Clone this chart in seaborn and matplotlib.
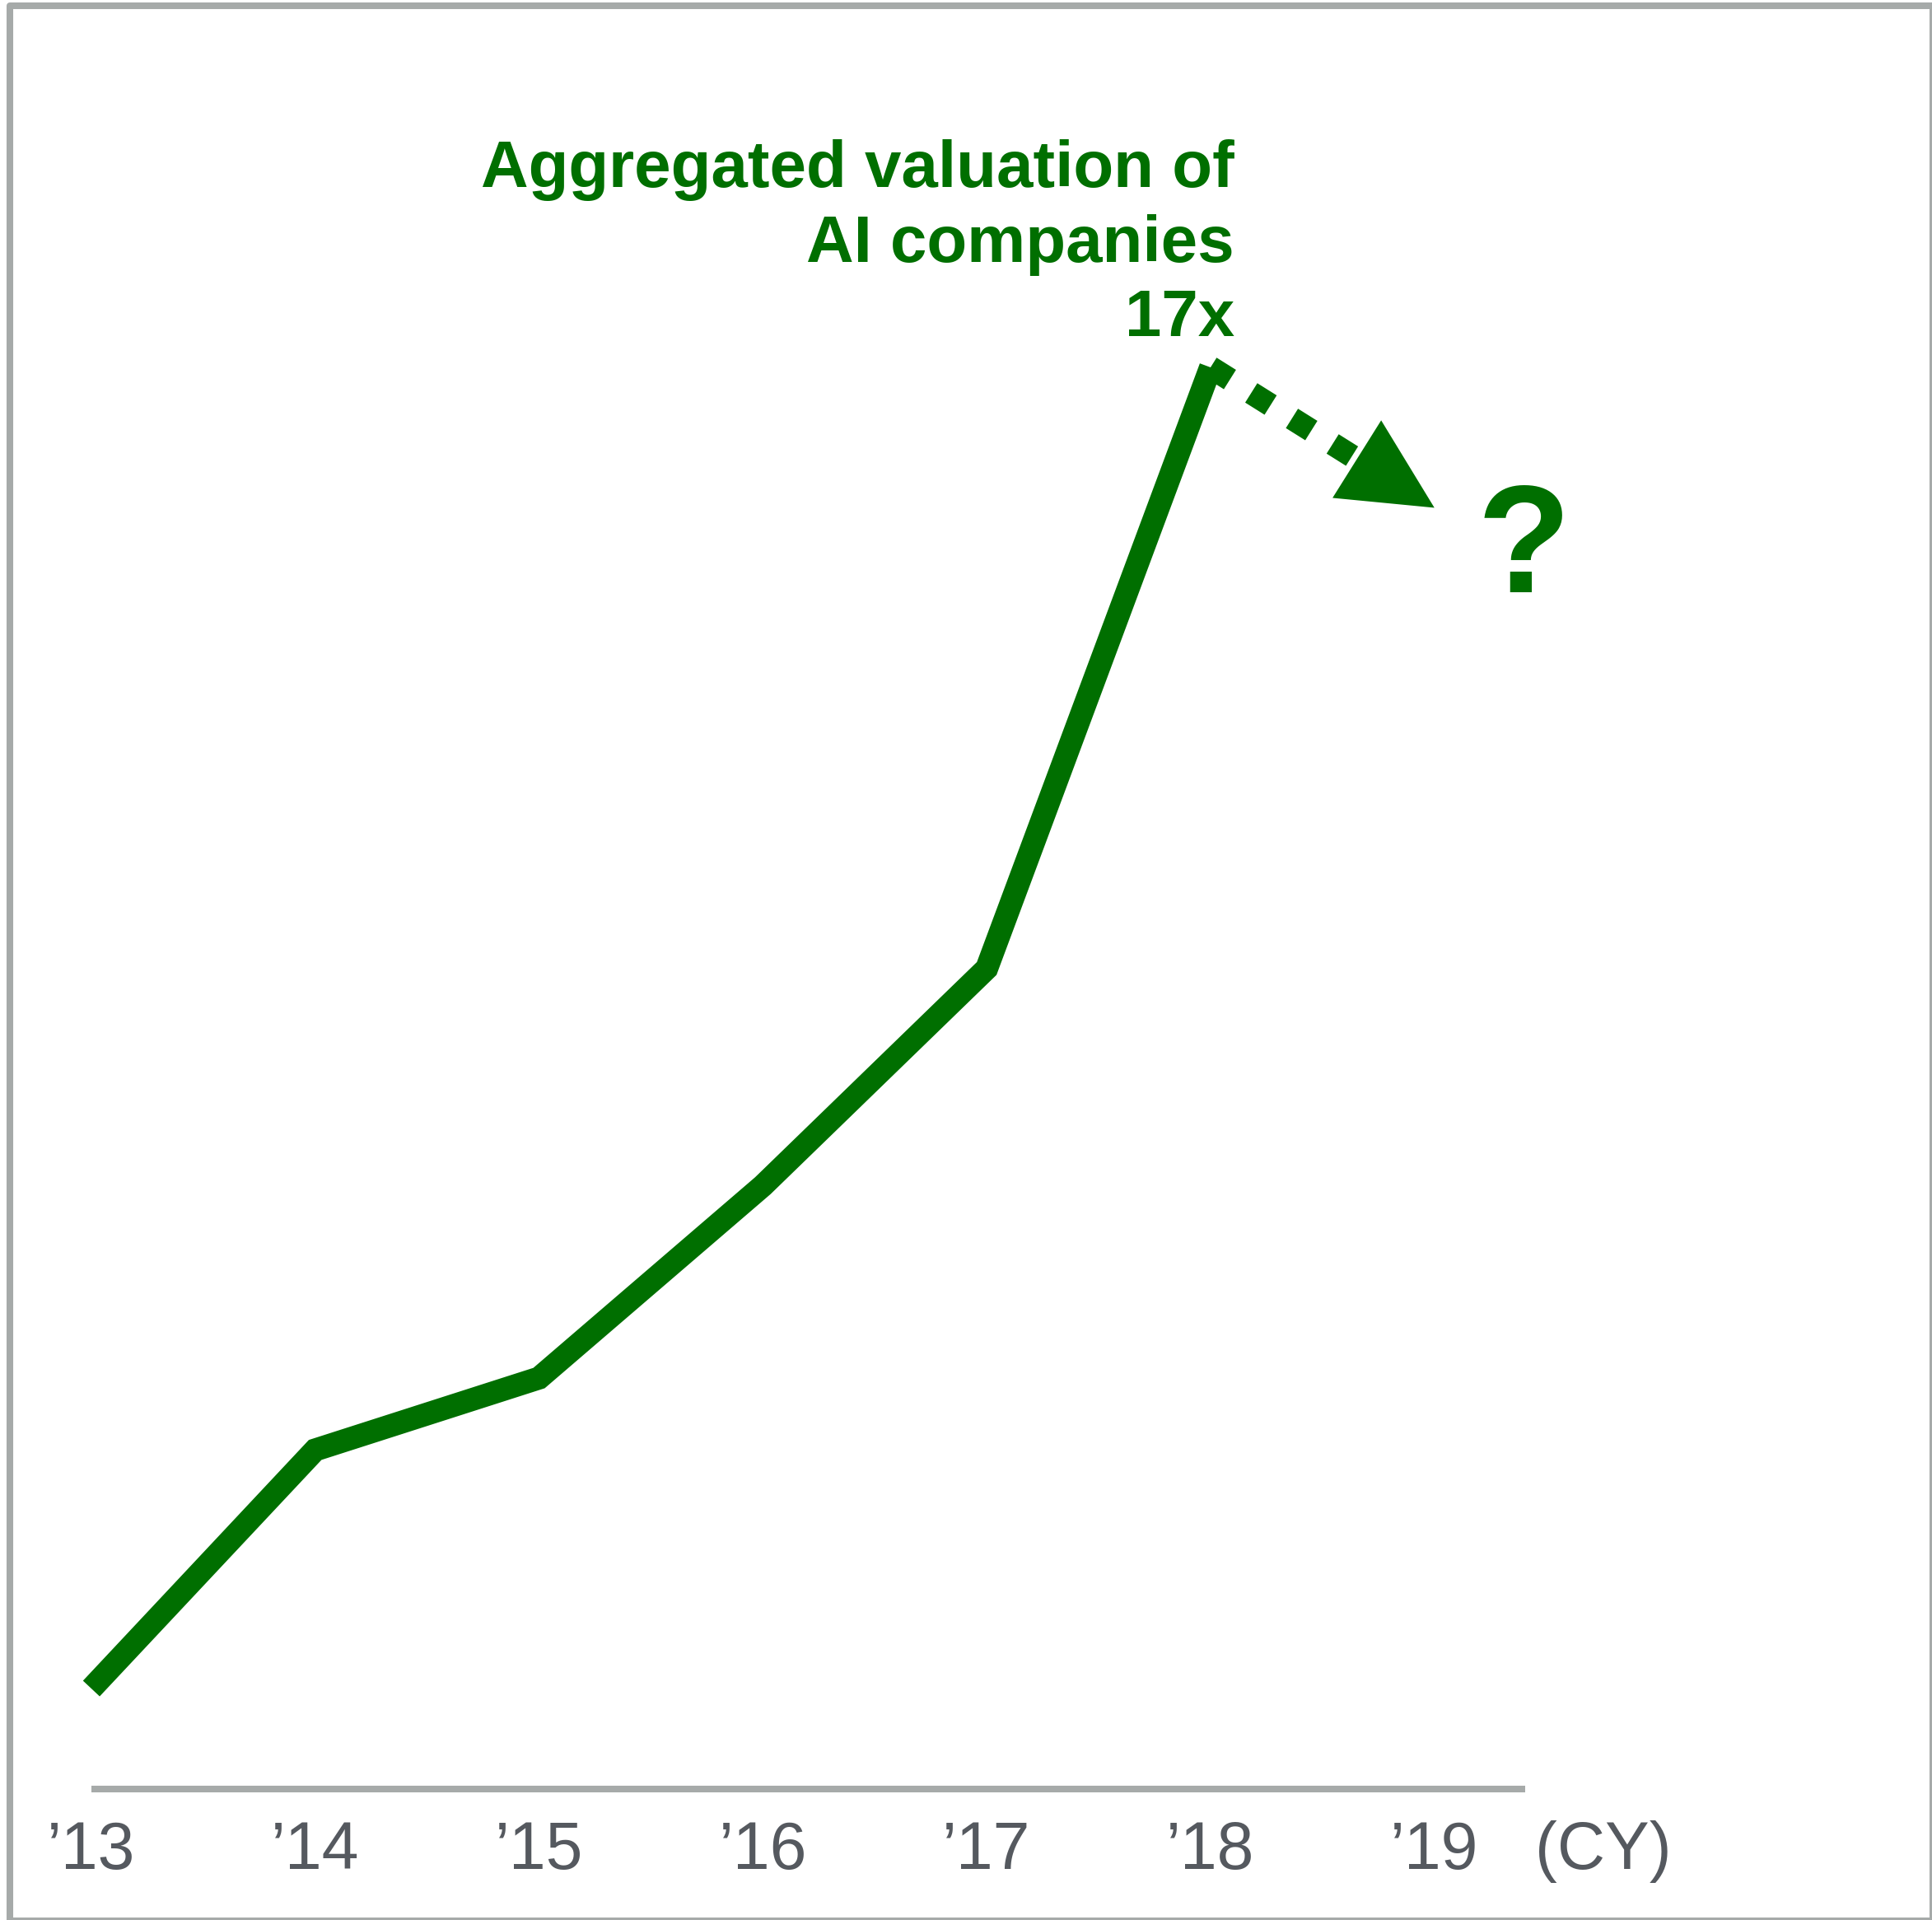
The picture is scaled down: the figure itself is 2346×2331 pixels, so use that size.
import numpy as np
import pandas as pd
import matplotlib
matplotlib.use("Agg")
import matplotlib.pyplot as plt
import seaborn as sns
from matplotlib.patches import Rectangle

# --- DATA ---
tahun = ["’13", "’14", "’15", "’16", "’17", "’18", "’19"]
nilai = [1.0, 3.89, 4.76, 7.09, 9.72, 17.0]   # indeks valuasi, '13 = 1
proyeksi_19 = 15.3                            # ujung panah ke '19 (perkiraan)
judul = ["Aggregated valuation of", "AI companies", "17x"]
satuan = "(CY)"

HIJAU = "#006F00"
ABU = "#A6AAA9"
TEKS = "#55595F"

sns.set_style("white")
plt.rcParams["font.family"] = ["Liberation Sans", "DejaVu Sans"]

fig = plt.figure(figsize=(23.46, 23.31), dpi=100)
ax = fig.add_axes([0, 0, 1, 1])
ax.set_facecolor("none")
ax.set_xlim(-0.408, 8.223)
ax.set_ylim(-1.803, 21.449)

df = pd.DataFrame({"x": np.arange(len(nilai)), "nilai": nilai})

# garis utama
sns.lineplot(data=df, x="x", y="nilai", ax=ax, color=HIJAU, linewidth=20,
             solid_capstyle="butt", solid_joinstyle="miter", zorder=3)
ax.set_xlim(-0.408, 8.223)
ax.set_ylim(-1.803, 21.449)

# panah putus-putus ke '19
x0, y0 = len(nilai) - 1, nilai[-1]
x1, y1 = len(nilai), proyeksi_19
p0 = ax.transData.transform((x0, y0))
p1 = ax.transData.transform((x1, y1))
arah = (p1 - p0) / np.hypot(*(p1 - p0))
panjang_kepala = 80 * fig.dpi / 72
pb = p1 - arah * (panjang_kepala - 10)
xb, yb = ax.transData.inverted().transform(pb)
ax.plot([x0, xb], [y0, yb], color=HIJAU, linewidth=20,
        linestyle=(0, (1.0, 1.1)), dash_capstyle="butt", zorder=3)
ax.annotate("", xy=(x1, y1), xytext=(x0, y0),
            arrowprops=dict(arrowstyle="-|>,head_length=80,head_width=40",
                            color=HIJAU, lw=0, shrinkA=0, shrinkB=0,
                            mutation_scale=1), zorder=4)

ax.text(6.398, 14.28, "?", color=HIJAU, fontsize=134, fontweight="bold",
        ha="center", va="baseline")

# judul
baris_y = [19.185, 18.277, 17.379]
for teks, yy in zip(judul, baris_y):
    ax.text(5.107, yy, teks, color=HIJAU, fontsize=57.5, fontweight="bold",
            ha="right", va="baseline")

# sumbu
axis_y = -0.217
for s in ["left", "right", "top"]:
    ax.spines[s].set_visible(False)
ax.spines["bottom"].set_position(("data", axis_y))
ax.spines["bottom"].set_bounds(0, 6.405)
ax.spines["bottom"].set_color(ABU)
ax.spines["bottom"].set_linewidth(5.8)
ax.spines["bottom"].set_capstyle("butt")
ax.set_xticks(range(len(tahun)))
ax.set_xticklabels(tahun, fontsize=58, color=TEKS)
ax.tick_params(axis="x", length=0, pad=27)
ax.set_yticks([])
ax.set_xlabel("")
ax.set_ylabel("")
ax.annotate(satuan, xy=(6.753, axis_y), xytext=(0, -27),
            textcoords="offset points", ha="center", va="top",
            fontsize=58, color=TEKS)

# bingkai
W, H = 2346, 2331
bingkai = Rectangle((12 / W, -1 / H), (2347 - 12) / W, (2332 - 7) / H,
                    transform=fig.transFigure, fill=False, edgecolor=ABU,
                    linewidth=5.8, joinstyle="round", clip_on=False)
fig.patches.append(bingkai)

fig.savefig("out.png", dpi=100)
plt.close(fig)
